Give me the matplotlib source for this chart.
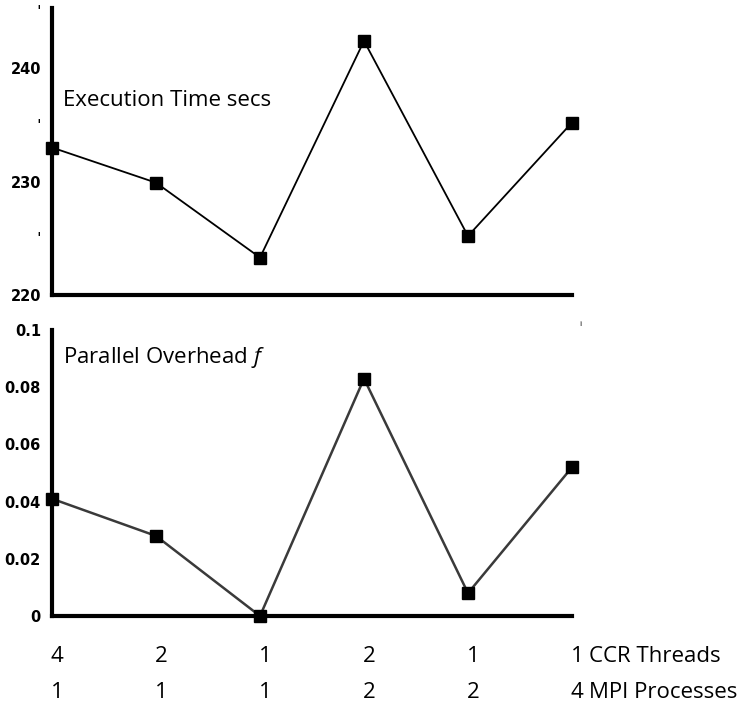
## two-panel plot: execution time and parallel overhead vs CCR threads / MPI processes
import numpy as np
import matplotlib.pyplot as plt
import matplotlib.transforms as mtransforms

plt.rcParams['font.family'] = ['Open Sans', 'DejaVu Sans']
plt.rcParams['mathtext.fontset'] = 'custom'
plt.rcParams['mathtext.it'] = 'Open Sans:italic'

ccr_threads = ['4', '2', '1', '2', '1', '1']
mpi_procs = ['1', '1', '1', '2', '2', '4']
exec_time = [233.0, 229.9, 223.3, 242.4, 225.2, 235.2]  # secs
overhead = [0.041, 0.028, 0.0, 0.083, 0.008, 0.052]     # parallel overhead f

top_ticks = [220, 225, 230, 235, 240, 245]
top_ticklabels = ['220', 'ˈ', '230', 'ˈ', '240', 'ˈ']
bot_ticks = [0, 0.02, 0.04, 0.06, 0.08, 0.1]
bot_ticklabels = ['0', '0.02', '0.04', '0.06', '0.08', '0.1']

W, H = 753, 704
fig = plt.figure(figsize=(W/100, H/100), dpi=100)

ax1 = fig.add_axes([52/W, 1-295/H, 520/W, 287/H])  # execution time
ax2 = fig.add_axes([52/W, 1-616/H, 520/W, 286/H])  # overhead

x = np.arange(len(exec_time))

ax1.plot(x, exec_time, color='black', linewidth=1.3, marker='s', markersize=8.5,
         clip_on=False, zorder=3)
ax2.plot(x, overhead, color='#3a3a3a', linewidth=1.8, marker='s', markersize=8,
         markerfacecolor='black', markeredgecolor='black', clip_on=False, zorder=3)

ax1.set_ylim(220, 245.3)
ax2.set_ylim(0, 0.1)
for ax in (ax1, ax2):
    ax.set_xlim(0, 5)
    ax.set_xticks([])
    for s in ('top', 'right'):
        ax.spines[s].set_visible(False)
    ax.spines['left'].set_linewidth(3)
    ax.spines['bottom'].set_linewidth(3)
    ax.tick_params(axis='y', length=0, pad=8)
    ax.set_facecolor('none')

ax1.set_yticks(top_ticks)
ax1.set_yticklabels(top_ticklabels, fontsize=10.5, fontweight='bold',
                    family='DejaVu Sans')
ax2.set_yticks(bot_ticks)
ax2.set_yticklabels(bot_ticklabels, fontsize=10.5, fontweight='bold',
                    family='DejaVu Sans')

ax1.text(63/W, 1-100/H, 'Execution Time secs', transform=fig.transFigure,
         fontsize=16, va='center', ha='left')
ax2.text(63/W, 1-357/H, 'Parallel Overhead $\\it{f}$', transform=fig.transFigure,
         fontsize=16, va='center', ha='left')

# small stray mark right of the top panel
fig.text(580/W, 1-325/H, 'i', fontsize=6, ha='center', va='center')

# category labels under the lower panel
trans = mtransforms.blended_transform_factory(ax2.transData, fig.transFigure)
for i in range(len(x)):
    ax2.text(x[i] + 0.05, 1-657/H, ccr_threads[i], transform=trans,
             fontsize=16, ha='center', va='center')
    ax2.text(x[i] + 0.05, 1-692/H, mpi_procs[i], transform=trans,
             fontsize=16, ha='center', va='center')
ax2.text(x[-1] + 0.16, 1-657/H, 'CCR Threads', transform=trans,
         fontsize=16, ha='left', va='center')
ax2.text(x[-1] + 0.16, 1-692/H, 'MPI Processes', transform=trans,
         fontsize=16, ha='left', va='center')

fig.savefig('out.png', dpi=100)
